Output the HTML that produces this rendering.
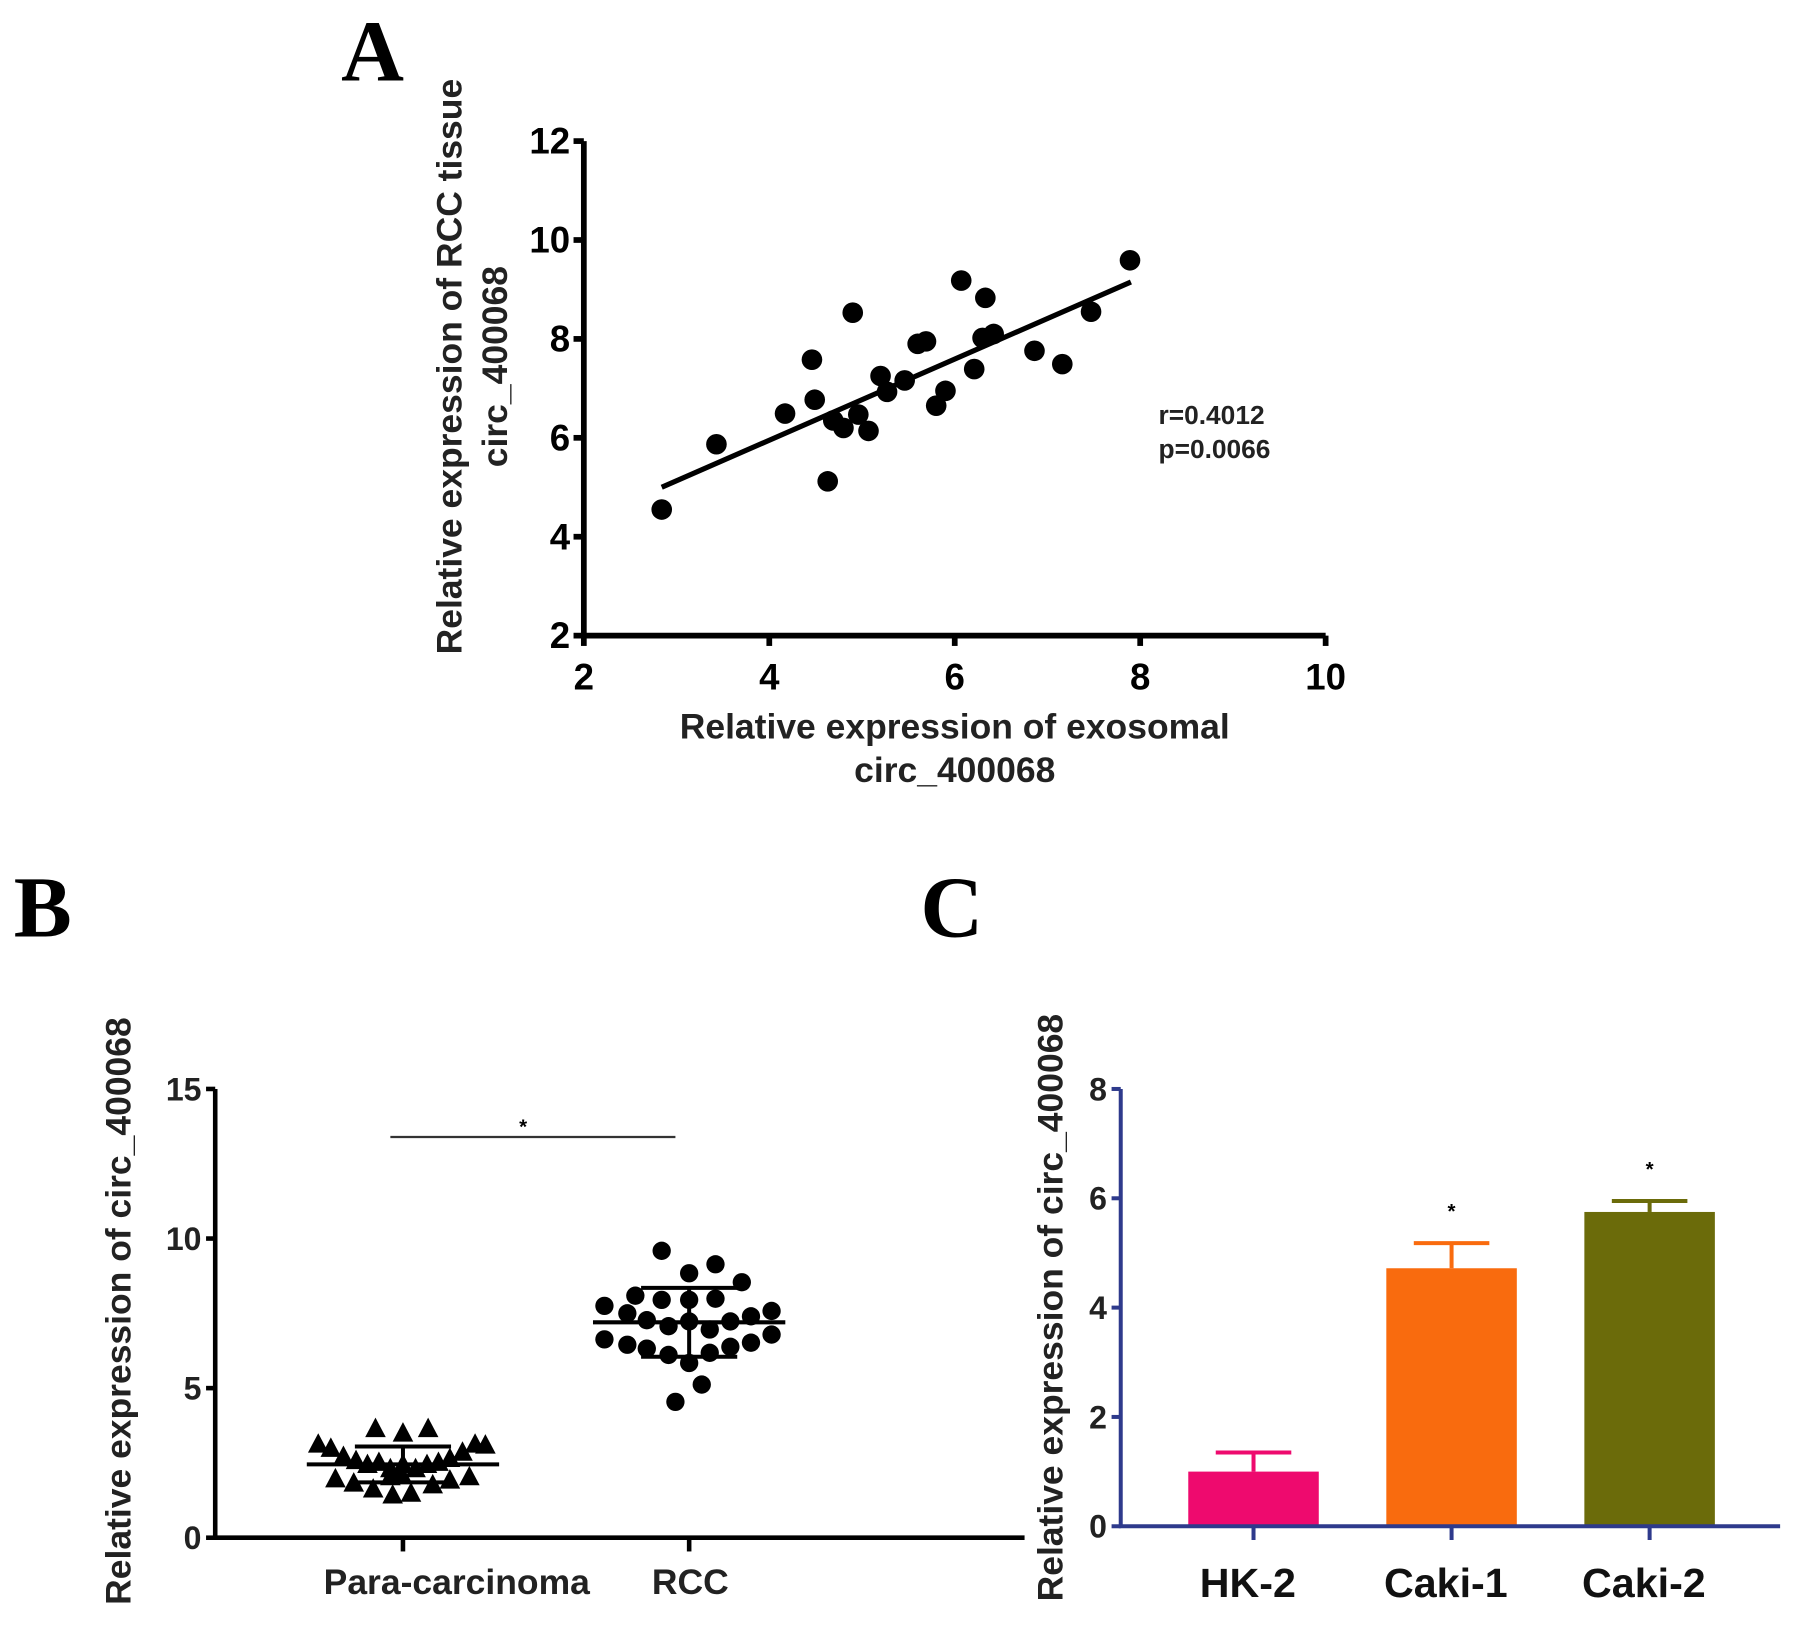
<!DOCTYPE html>
<html><head><meta charset="utf-8"><style>
html,body{margin:0;padding:0;background:#fff;}
svg{display:block;}
text{font-family:"Liberation Sans",sans-serif;font-weight:bold;}
.pl{font-family:"Liberation Serif",serif;font-weight:bold;font-size:76px;}
</style></head><body>
<svg id="fig" width="1795" height="1625" viewBox="0 0 1568 1419" xmlns="http://www.w3.org/2000/svg">
<rect width="1568" height="1419" fill="#fff"/>
<g id="pa"></g>
<g id="pb"></g>
<g id="pc"></g>
</svg>
<script>
// Panel A data
const aX = [2.84,3.43,4.17,4.46,4.49,4.63,4.69,4.8,4.9,4.96,5.07,5.2,5.27,5.46,5.6,5.69,5.8,5.9,6.07,6.21,6.3,6.33,6.42,6.86,7.16,7.47,7.89];
const aY = [4.55,5.87,6.49,7.58,6.77,5.12,6.35,6.2,8.53,6.47,6.14,7.25,6.93,7.16,7.9,7.95,6.65,6.95,9.18,7.39,8.02,8.83,8.1,7.76,7.49,8.55,9.59];
const aFit = [[2.84,5.0],[7.9,9.15]];
const aXTicks = [2,4,6,8,10];
const aYTicks = [2,4,6,8,10,12];
// Panel B data
const bCats = ["Para-carcinoma","RCC"];
const bPara = [3.63,3.48,3.63,3.11,2.97,3.11,3.08,2.7,2.84,2.56,2.43,2.5,2.29,2.43,2.29,2.43,2.5,2.63,1.95,1.81,1.61,1.41,1.47,1.75,1.91,2.02,2.09,2.02];
const bParaJit = [-24,0,22,-74,-63,63,72,-52,52,-41,-31,-21,-11,0,11,21,31,41,-59,-43,-26,-9,7,26,41,58,-1,-11];
const bRcc = [9.59,8.84,9.14,8.54,8.09,7.95,7.95,7.99,7.75,7.5,7.58,7.4,7.27,7.07,7.23,6.96,7.23,6.63,6.45,6.79,6.52,6.32,6.11,6.18,6.38,5.84,5.12,4.54];
const bRccJit = [-24,0,23,46,-47,-24,0,23,-74,-54,72,54,-37,-18,0,18,36,-74,-54,72,54,-37,-18,18,36,0,11,-12];
const bMean = [2.45,7.2];
const bSD = [0.6,1.15];
const bYTicks = [0,5,10,15];
// Panel C data
const cCats = ["HK-2","Caki-1","Caki-2"];
const cVals = [1.0,4.72,5.75];
const cErr = [0.35,0.46,0.2];
const cColors = ["#ee0a6e","#f96b0e","#6b6b0a"];
const cYTicks = [0,2,4,6,8];

const NS="http://www.w3.org/2000/svg";
function mk(parent,tag,attrs,txt){const e=document.createElementNS(NS,tag);for(const k in attrs)e.setAttribute(k,attrs[k]);if(txt!==undefined)e.textContent=txt;parent.appendChild(e);return e;}

// ---------- Panel A ----------
const pa=document.getElementById('pa');
const ax=v=>510+(v-2)*(648/8), ay=v=>555-(v-2)*(432/10);
let t=mk(pa,'text',{x:298,y:70,class:'pl'},'A');


let l=mk(pa,'path',{d:`M${ax(2)},${ay(12)} V${ay(2)} H${ax(10)}`,stroke:'#000','stroke-width':5,fill:'none'});


aYTicks.forEach(v=>{
  mk(pa,'line',{x1:ax(2)-9,x2:ax(2),y1:ay(v),y2:ay(v),stroke:'#000','stroke-width':5});
  const e=mk(pa,'text',{x:ax(2)-12,y:ay(v)+11,'text-anchor':'end','font-size':32},String(v));
  
  
});
aXTicks.forEach(v=>{
  mk(pa,'line',{x1:ax(v),x2:ax(v),y1:ay(2),y2:ay(2)+9,stroke:'#000','stroke-width':5});
  const e=mk(pa,'text',{x:ax(v),y:ay(2)+47,'text-anchor':'middle','font-size':32},String(v));
  
  
});
aX.forEach((x,i)=>{
  const c=mk(pa,'circle',{cx:ax(x),cy:ay(aY[i]),r:9,fill:'#000'});
  
  
});
l=mk(pa,'line',{x1:ax(aFit[0][0]),y1:ay(aFit[0][1]),x2:ax(aFit[1][0]),y2:ay(aFit[1][1]),stroke:'#000','stroke-width':4.5});


t=mk(pa,'text',{x:1012,y:370,'font-size':23,fill:'#222'},'r=0.4012');


t=mk(pa,'text',{x:1012,y:400,'font-size':23,fill:'#222'},'p=0.0066');


t=mk(pa,'text',{x:834,y:645,'text-anchor':'middle','font-size':31,fill:'#222'},'Relative expression of exosomal');


t=mk(pa,'text',{x:834,y:683,'text-anchor':'middle','font-size':31,fill:'#222'},'circ_400068');


const ga=mk(pa,'g',{transform:'translate(403,320) rotate(-90)'});
t=mk(ga,'text',{x:0,y:0,'text-anchor':'middle','font-size':31,fill:'#222'},'Relative expression of RCC tissue');


t=mk(ga,'text',{x:0,y:40,'text-anchor':'middle','font-size':31,fill:'#222'},'circ_400068');



// ---------- Panel B ----------
const pb=document.getElementById('pb');
const by=v=>1343-v*(392/15);
const bx=[352,602];
t=mk(pb,'text',{x:12,y:818,class:'pl'},'B');


l=mk(pb,'path',{d:`M188,${by(15)} V${by(0)} H895`,stroke:'#000','stroke-width':4,fill:'none'});


bYTicks.forEach(v=>{
  mk(pb,'line',{x1:180,x2:188,y1:by(v),y2:by(v),stroke:'#000','stroke-width':4});
  const e=mk(pb,'text',{x:176,y:by(v)+10,'text-anchor':'end','font-size':28,fill:'#222'},String(v));
  
  
});
bCats.forEach((c,i)=>{
  mk(pb,'line',{x1:bx[i],x2:bx[i],y1:by(0),y2:by(0)+12,stroke:'#000','stroke-width':4});
  const e=mk(pb,'text',{x:bx[i]+(i==0?47:1),y:1392,'text-anchor':'middle','font-size':31,fill:'#222'},c);
  
  
});
bPara.forEach((v,i)=>{
  const x=bx[0]+bParaJit[i],y=by(v);
  const p=mk(pb,'polygon',{points:`${x},${y-10} ${x-9},${y+7} ${x+9},${y+7}`,fill:'#000'});
  
  
});
bRcc.forEach((v,i)=>{
  const c=mk(pb,'circle',{cx:bx[1]+bRccJit[i],cy:by(v),r:8,fill:'#000'});
  
  
});
bMean.forEach((m,i)=>{
  const g=mk(pb,'g',{stroke:'#000','stroke-width':3.5});
  
  
  mk(g,'line',{x1:bx[i]-84,x2:bx[i]+84,y1:by(m),y2:by(m)});
  mk(g,'line',{x1:bx[i],x2:bx[i],y1:by(m+bSD[i]),y2:by(m-bSD[i])});
  mk(g,'line',{x1:bx[i]-42,x2:bx[i]+42,y1:by(m+bSD[i]),y2:by(m+bSD[i])});
  mk(g,'line',{x1:bx[i]-42,x2:bx[i]+42,y1:by(m-bSD[i]),y2:by(m-bSD[i])});
});
l=mk(pb,'line',{x1:341,x2:590,y1:993,y2:993,stroke:'#333','stroke-width':2});


t=mk(pb,'text',{x:457,y:990,'text-anchor':'middle','font-size':18},'*');


const gb=mk(pb,'g',{transform:'translate(114,1145) rotate(-90)'});
t=mk(gb,'text',{x:0,y:0,'text-anchor':'middle','font-size':31,fill:'#222'},'Relative expression of circ_400068');



// ---------- Panel C ----------
const pc=document.getElementById('pc');
const cy=v=>1333-v*(382/8);
const cx=[1095,1268,1441];
const navy='#2e3a8c';
t=mk(pc,'text',{x:804,y:818,class:'pl'},'C');


cVals.forEach((v,i)=>{
  const g=mk(pc,'g',{});
  
  
  mk(g,'line',{x1:cx[i],x2:cx[i],y1:cy(v),y2:cy(v+cErr[i]),stroke:cColors[i],'stroke-width':3.5});
  mk(g,'line',{x1:cx[i]-33,x2:cx[i]+33,y1:cy(v+cErr[i]),y2:cy(v+cErr[i]),stroke:cColors[i],'stroke-width':3.5});
  mk(g,'rect',{x:cx[i]-57,y:cy(v),width:114,height:cy(0)-cy(v),fill:cColors[i]});
  if(i>0){const s=mk(pc,'text',{x:cx[i],y:cy(v+cErr[i])-22,'text-anchor':'middle','font-size':18},'*');
    
    }
});
l=mk(pc,'path',{d:`M979,${cy(8)} V${cy(0)} H1555`,stroke:navy,'stroke-width':3.5,fill:'none'});


cYTicks.forEach(v=>{
  mk(pc,'line',{x1:971,x2:979,y1:cy(v),y2:cy(v),stroke:navy,'stroke-width':3.5});
  const e=mk(pc,'text',{x:967,y:cy(v)+10,'text-anchor':'end','font-size':28,fill:'#222'},String(v));
  
  
});
cCats.forEach((c,i)=>{
  mk(pc,'line',{x1:cx[i],x2:cx[i],y1:cy(0),y2:cy(0)+12,stroke:navy,'stroke-width':3.5});
  const e=mk(pc,'text',{x:cx[i]-5,y:1395,'text-anchor':'middle','font-size':36,'font-weight':'normal',fill:'#111'},c);
  
  
});
const gc=mk(pc,'g',{transform:'translate(928,1142) rotate(-90)'});
t=mk(gc,'text',{x:0,y:0,'text-anchor':'middle','font-size':31,fill:'#222'},'Relative expression of circ_400068');


</script>
</body></html>
